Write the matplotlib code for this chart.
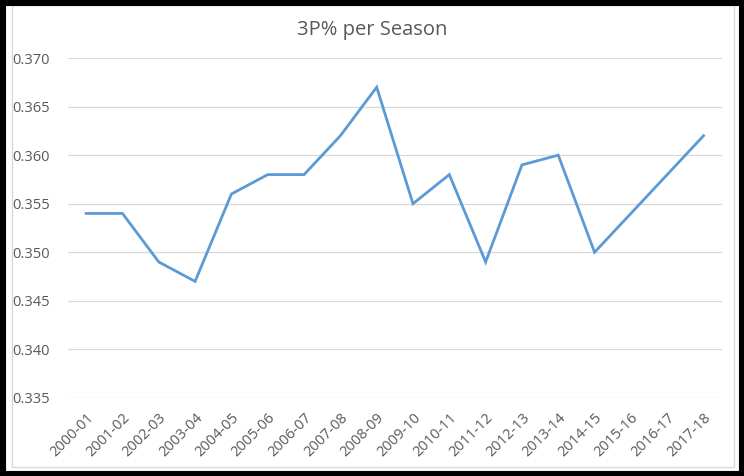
import matplotlib
matplotlib.use("Agg")
import matplotlib.pyplot as plt
from matplotlib.patches import Rectangle

seasons = ["2000-01", "2001-02", "2002-03", "2003-04", "2004-05", "2005-06",
           "2006-07", "2007-08", "2008-09", "2009-10", "2010-11", "2011-12",
           "2012-13", "2013-14", "2014-15", "2015-16", "2016-17", "2017-18"]
three_pct = [0.354, 0.354, 0.349, 0.347, 0.356, 0.358,
             0.358, 0.362, 0.367, 0.355, 0.358, 0.349,
             0.359, 0.360, 0.350, 0.354, 0.358, 0.362]
y_ticks = [0.335, 0.340, 0.345, 0.350, 0.355, 0.360, 0.365, 0.370]

plt.rcParams['font.family'] = ['Open Sans', 'DejaVu Sans']
txt = '#595959'

fig = plt.figure(figsize=(7.44, 4.76), dpi=100)
fig.patch.set_facecolor('white')
ax = fig.add_axes([0.0914, 0.164, 0.8786, 0.714])

x = list(range(len(seasons)))
ax.plot(x, three_pct, color='#5B9BD5', linewidth=2.0, solid_joinstyle='miter')

ax.set_xlim(-0.5, len(seasons) - 0.5)
ax.set_ylim(0.335, 0.370)
ax.set_yticks(y_ticks)
ax.set_yticklabels([f"{v:.3f}" for v in y_ticks], fontsize=10.5, color=txt)
ax.set_xticks(x)
ax.set_xticklabels(seasons, rotation=45, ha='right', va='top',
                   rotation_mode='anchor', fontsize=10.5, color=txt)
ax.tick_params(axis='y', length=0, pad=13)
ax.tick_params(axis='x', length=0, pad=9)
ax.grid(axis='y', color='#D9D9D9', linewidth=0.9)
ax.set_axisbelow(True)
for s in ax.spines.values():
    s.set_visible(False)

fig.text(0.5, 0.937, "3P% per Season", ha='center', va='center',
         fontsize=14.5, color=txt)

# chart area border and the black screenshot frame
fig.patches.append(Rectangle((12 / 744, 9 / 476), 722 / 744, 462 / 476,
                             transform=fig.transFigure, fill=False,
                             edgecolor='#D9D9D9', linewidth=1))
fig.patches.append(Rectangle((0, 0), 1, 1, transform=fig.transFigure,
                             fill=False, edgecolor='black', linewidth=8))

fig.savefig("out.png", dpi=100)
